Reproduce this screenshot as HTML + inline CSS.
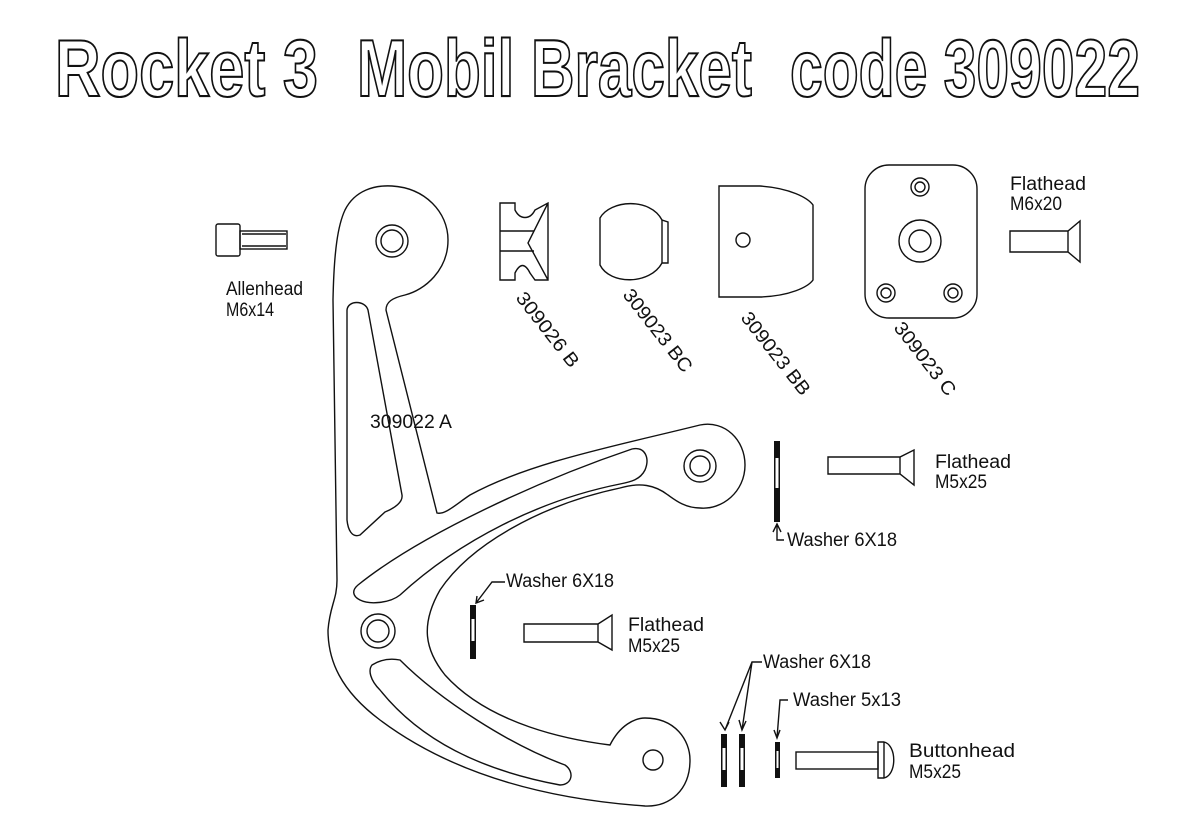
<!DOCTYPE html>
<html><head><meta charset="utf-8"><style>
html,body{margin:0;padding:0;background:#fff}
svg{display:block}
.t{font-family:"Liberation Sans",sans-serif;font-weight:bold;fill:#fff;stroke:#111;stroke-width:1.6}
.l{font-family:"Liberation Sans",sans-serif;font-size:19px;fill:#111}
.s{fill:none;stroke:#111;stroke-width:1.4}
</style></head><body>
<svg width="1200" height="840" viewBox="0 0 1200 840" xmlns="http://www.w3.org/2000/svg">
<g transform="translate(0,96) scale(1,1.3)">
<text class="t" x="55" y="0" font-size="62" textLength="263" lengthAdjust="spacingAndGlyphs">Rocket 3</text>
<text class="t" x="357" y="0" font-size="62" textLength="395" lengthAdjust="spacingAndGlyphs">Mobil Bracket</text>
<text class="t" x="790" y="0" font-size="62" textLength="350" lengthAdjust="spacingAndGlyphs">code 309022</text>
</g>

<!-- bracket outline -->
<path class="s" d="M345,210 C355,190 375,185 392,186 C425,188 448,212 448,240 C448,270 425,290 405,295 C392,298 386,302 386,310 L437,513 C445,515 455,505 470,495 C530,462 620,445 700,425 C725,420 745,440 745,465 C745,492 722,510 700,508 C685,508 675,500 668,495 C655,485 640,482 620,488 C540,505 470,545 440,590 C420,625 425,650 445,675 C490,725 570,740 610,745 C620,725 635,718 645,718 C675,718 690,740 690,760 C690,790 670,807 645,806 C560,800 460,780 380,720 C340,690 328,660 328,630 C330,605 337,600 337,580 L333,300 C334,250 338,225 345,210 Z"/>
<circle class="s" cx="392" cy="241" r="16"/><circle class="s" cx="392" cy="241" r="11"/>
<circle class="s" cx="700" cy="466" r="16"/><circle class="s" cx="700" cy="466" r="10"/>
<circle class="s" cx="378" cy="631" r="17"/><circle class="s" cx="378" cy="631" r="11"/>
<circle class="s" cx="653" cy="760" r="10"/>
<!-- slots -->
<path class="s" d="M347,310 C348,300 365,300 368,310 L402,495 C403,502 395,508 385,512 L360,535 C352,538 348,530 347,520 Z"/>
<path class="s" d="M358,585 C420,535 540,480 632,449 C645,446 650,458 645,470 C640,480 630,482 620,484 C540,500 460,540 400,595 C390,603 370,605 360,600 C352,596 352,590 358,585 Z"/>
<path class="s" d="M372,665 C380,660 390,658 400,660 C440,700 510,745 565,765 C575,772 572,785 560,785 C480,770 420,740 380,690 C370,680 368,670 372,665 Z"/>
<text class="l" x="370" y="428" textLength="82" lengthAdjust="spacingAndGlyphs">309022 A</text>

<!-- allenhead -->
<rect class="s" x="216" y="224" width="24" height="32" rx="2"/>
<rect class="s" x="240" y="231" width="47" height="18"/>
<line class="s" x1="242" y1="234" x2="286" y2="234"/><line class="s" x1="242" y1="246" x2="286" y2="246"/>
<text class="l" x="226" y="295" textLength="77" lengthAdjust="spacingAndGlyphs">Allenhead</text>
<text class="l" x="226" y="316" textLength="48" lengthAdjust="spacingAndGlyphs">M6x14</text>

<!-- 309026 B -->
<path class="s" d="M500,203 L515,203 L515,210 C520,220 530,220 535,210 L548,203 L548,280 L535,280 L530,273 C525,263 520,263 515,273 L515,280 L500,280 Z M548,203 L528,243 L548,280"/>
<line class="s" x1="500" y1="231" x2="534" y2="231" stroke-width="2.5"/>
<line class="s" x1="500" y1="251" x2="534" y2="251" stroke-width="2.5"/>
<!-- 309023 BC -->
<path class="s" d="M600,218 C610,200 650,197 662,220 L668,222 L668,263 L662,263 C650,285 610,285 600,265 Z"/>
<line class="s" x1="662" y1="220" x2="662" y2="263"/>
<!-- 309023 BB -->
<path class="s" d="M719,186 L760,186 C790,188 808,198 813,205 L813,280 C808,287 790,296 760,297 L719,297 Z"/>
<circle class="s" cx="743" cy="240" r="7" stroke-width="2.2"/>
<!-- 309023 C -->
<rect class="s" x="865" y="165" width="112" height="153" rx="24"/>
<circle class="s" cx="920" cy="187" r="9"/><circle class="s" cx="920" cy="187" r="5"/>
<circle class="s" cx="920" cy="241" r="21"/><circle class="s" cx="920" cy="241" r="11"/>
<circle class="s" cx="886" cy="293" r="9"/><circle class="s" cx="886" cy="293" r="5"/>
<circle class="s" cx="953" cy="293" r="9"/><circle class="s" cx="953" cy="293" r="5"/>

<text class="l" transform="translate(515,298) rotate(52)" textLength="90" lengthAdjust="spacingAndGlyphs">309026 B</text>
<text class="l" transform="translate(622,295) rotate(52)" textLength="100" lengthAdjust="spacingAndGlyphs">309023 BC</text>
<text class="l" transform="translate(740,318) rotate(52)" textLength="100" lengthAdjust="spacingAndGlyphs">309023 BB</text>
<text class="l" transform="translate(893,328) rotate(52)" textLength="88" lengthAdjust="spacingAndGlyphs">309023 C</text>

<!-- flathead M6x20 -->
<text class="l" x="1010" y="190" textLength="76" lengthAdjust="spacingAndGlyphs">Flathead</text>
<text class="l" x="1010" y="210" textLength="52" lengthAdjust="spacingAndGlyphs">M6x20</text>
<path class="s" d="M1010,231 L1068,231 L1080,221 L1080,262 L1068,252 L1010,252 Z M1068,231 L1068,252" stroke-width="1.8"/>

<!-- flathead M5x25 right -->
<path class="s" d="M828,457 L900,457 L914,450 L914,485 L900,474 L828,474 Z M900,457 L900,474" stroke-width="1.8"/>
<text class="l" x="935" y="468" textLength="76" lengthAdjust="spacingAndGlyphs">Flathead</text>
<text class="l" x="935" y="488" textLength="52" lengthAdjust="spacingAndGlyphs">M5x25</text>
<rect x="774" y="441" width="6" height="81" fill="#111"/><rect x="775.5" y="458" width="3" height="30" fill="#fff"/>
<path class="s" d="M777,524 L777,540 L784,540 M773,532 L777,524 L781,532" stroke-width="1.2"/>
<text class="l" x="787" y="546" textLength="110" lengthAdjust="spacingAndGlyphs">Washer 6X18</text>

<!-- left washer + flathead -->
<rect x="470" y="605" width="6" height="54" fill="#111"/><rect x="471.5" y="619" width="3" height="22" fill="#fff"/>
<path class="s" d="M476,603 L492,582 L505,582 M477,596 L476,603 L484,600" stroke-width="1.2"/>
<text class="l" x="506" y="587" textLength="108" lengthAdjust="spacingAndGlyphs">Washer 6X18</text>
<path class="s" d="M524,624 L598,624 L612,615 L612,650 L598,642 L524,642 Z M598,624 L598,642" stroke-width="1.8"/>
<text class="l" x="628" y="631" textLength="76" lengthAdjust="spacingAndGlyphs">Flathead</text>
<text class="l" x="628" y="652" textLength="52" lengthAdjust="spacingAndGlyphs">M5x25</text>

<!-- bottom washers -->
<rect x="721" y="734" width="6" height="53" fill="#111"/><rect x="722.5" y="748" width="3" height="22" fill="#fff"/>
<rect x="739" y="734" width="6" height="53" fill="#111"/><rect x="740.5" y="748" width="3" height="22" fill="#fff"/>
<rect x="775" y="742" width="5" height="36" fill="#111"/><rect x="776.5" y="751" width="2" height="17" fill="#fff"/>
<path class="s" d="M725,730 L752,662 L762,662 M742,730 L752,662 M720,722 L725,730 L729,722 M739,720 L742,730 L746,721" stroke-width="1.2"/>
<text class="l" x="763" y="668" textLength="108" lengthAdjust="spacingAndGlyphs">Washer 6X18</text>
<path class="s" d="M777,738 L780,700 L788,700 M774,730 L777,738 L780,730" stroke-width="1.2"/>
<text class="l" x="793" y="706" textLength="108" lengthAdjust="spacingAndGlyphs">Washer 5x13</text>
<rect class="s" x="796" y="752" width="82" height="17" stroke-width="1.8"/>
<path class="s" d="M878,742 L884,742 C897,745 897,775 884,778 L878,778 Z M884,742 L884,778" stroke-width="1.8"/>
<text class="l" x="909" y="757" textLength="106" lengthAdjust="spacingAndGlyphs">Buttonhead</text>
<text class="l" x="909" y="778" textLength="52" lengthAdjust="spacingAndGlyphs">M5x25</text>
</svg>
</body></html>
